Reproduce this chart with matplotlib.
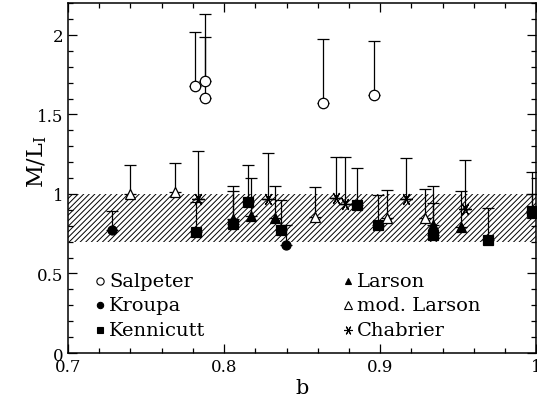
import numpy as np
import matplotlib
matplotlib.use("Agg")
import matplotlib.pyplot as plt

plt.rcParams['font.family'] = ['DejaVu Serif']
plt.rcParams['mathtext.fontset'] = 'dejavuserif'
plt.rcParams['hatch.linewidth'] = 0.7

# M/L_I values (lower end) and upper error-bar end for each IMF
salp_b = [0.7815, 0.7877, 0.7877, 0.8634, 0.8960]
salp_ml = [1.681, 1.711, 1.604, 1.572, 1.620]
salp_hi = [2.015, 2.130, 1.985, 1.973, 1.962]

kroupa_b = [0.7283, 0.8394]
kroupa_ml = [0.771, 0.679]
kroupa_hi = [0.891, 0.807]

kenn_b = [0.7821, 0.8054, 0.8153, 0.8362, 0.8851, 0.8989, 0.9340, 0.9691, 0.9970]
kenn_ml = [0.759, 0.811, 0.952, 0.776, 0.931, 0.805, 0.740, 0.711, 0.893]
kenn_hi = [0.952, 1.017, 1.182, 0.962, 1.161, 0.994, 0.940, 0.910, 1.140]

lars_b = [0.8056, 0.8172, 0.8324, 0.9340, 0.9521, 0.9970]
lars_ml = [0.843, 0.864, 0.847, 0.805, 0.795, 0.880]
lars_hi = [1.048, 1.100, 1.050, 1.050, 1.017, 1.000]

modl_b = [0.7396, 0.7685, 0.8581, 0.9043, 0.9287]
modl_ml = [1.000, 1.015, 0.853, 0.847, 0.847]
modl_hi = [1.182, 1.195, 1.046, 1.027, 1.030]

chab_b = [0.7834, 0.8283, 0.8719, 0.8777, 0.9166, 0.9542]
chab_ml = [0.969, 0.969, 0.973, 0.937, 0.969, 0.906]
chab_hi = [1.268, 1.258, 1.235, 1.235, 1.226, 1.214]

band = (0.7, 1.0)

asterisk = (6, 2, 90)
series = [
    (salp_b, salp_ml, salp_hi, 'o', 'none', 7.5, 'Salpeter'),
    (kroupa_b, kroupa_ml, kroupa_hi, 'o', 'k', 6.5, 'Kroupa'),
    (kenn_b, kenn_ml, kenn_hi, 's', 'k', 6.5, 'Kennicutt'),
    (lars_b, lars_ml, lars_hi, '^', 'k', 6.5, 'Larson'),
    (modl_b, modl_ml, modl_hi, '^', 'none', 7.5, 'mod. Larson'),
    (chab_b, chab_ml, chab_hi, asterisk, 'none', 9, 'Chabrier'),
]

fig = plt.figure(figsize=(5.37, 4.06), dpi=100)
ax = fig.add_axes([0.1266, 0.128, 0.872, 0.862])

ax.axhspan(band[0], band[1], facecolor='none', edgecolor='k', hatch='//////', linewidth=0)

for b, ml, hi, mk, fc, ms, name in series:
    b = np.array(b)
    ml = np.array(ml)
    hi = np.array(hi)
    err = np.vstack([np.zeros_like(ml), hi - ml])
    ax.errorbar(b, ml, yerr=err, fmt='none', ecolor='k', elinewidth=0.9,
                capsize=4.5, capthick=0.9)
    ax.plot(b, ml, linestyle='none', marker=mk, markersize=ms,
            markerfacecolor=fc if fc != 'none' else 'white',
            markeredgecolor='k', markeredgewidth=0.9, zorder=3)

# key in two columns inside the axes
key_pos = [(0.068, 0.207), (0.068, 0.137), (0.068, 0.067),
           (0.597, 0.207), (0.597, 0.137), (0.597, 0.067)]
for (x, y), (b, ml, hi, mk, fc, ms, name) in zip(key_pos, series):
    ax.plot([x], [y], transform=ax.transAxes, linestyle='none', marker=mk,
            markersize=ms * 0.7, markerfacecolor=fc if fc != 'none' else 'white',
            markeredgecolor='k', markeredgewidth=0.8)
    ax.text(x + 0.02, y, name, transform=ax.transAxes, fontsize=14,
            va='center', ha='left')

ax.set_xlim(0.7, 1.0)
ax.set_ylim(0, 2.2)
ax.set_xticks([0.7, 0.8, 0.9, 1.0])
ax.set_xticklabels(['0.7', '0.8', '0.9', '1'])
ax.set_yticks([0, 0.5, 1, 1.5, 2])
ax.set_yticklabels(['0', '0.5', '1', '1.5', '2'])
ax.set_xticks(np.arange(0.7, 1.0001, 0.02), minor=True)
ax.set_yticks(np.arange(0, 2.2001, 0.1), minor=True)
ax.tick_params(which='both', direction='in', top=True, right=True, labelsize=12)
ax.tick_params(which='major', length=6.5, width=0.9)
ax.tick_params(which='minor', length=3.4, width=0.9)
for s in ax.spines.values():
    s.set_linewidth(1.1)

ax.set_xlabel('b', fontsize=15, labelpad=2)
ax.set_ylabel(r'M/L$_\mathrm{I}$', fontsize=16)
ax.yaxis.set_label_coords(-0.04, 0.55)

fig.savefig('out.png', dpi=100)
